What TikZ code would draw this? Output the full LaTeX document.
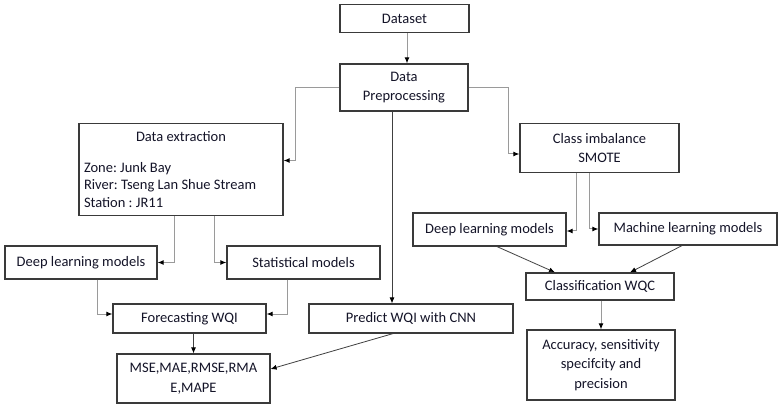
\documentclass[tikz,border=0pt]{standalone}
\usepackage{fontspec}
\setmainfont{Carlito}
\frenchspacing
\usetikzlibrary{arrows.meta,calc}
\definecolor{boxline}{HTML}{3A3A3A}
\definecolor{lineg}{HTML}{9A9A9A}
\definecolor{lined}{HTML}{404040}
\definecolor{txt}{HTML}{141428}
\tikzset{
  box/.style={draw=boxline, line width=1.2pt, fill=white, inner sep=0pt, align=center,
    text=txt, font=\fontsize{14.5}{19.5}\selectfont},
  conng/.style={draw=lineg, line width=1pt, -{Latex[length=6pt,width=5pt,color=black]}},
  connd/.style={draw=lined, line width=0.8pt, -{Latex[length=6pt,width=5pt,color=black]}},
}
\begin{document}
\begin{tikzpicture}[x=1pt,y=-1pt]
\useasboundingbox[fill=white] (0,0) rectangle (779,406);
% boxes
\node[box, minimum width=129, minimum height=28] (dataset) at (404.5,18.5) {Dataset};
\node[box, minimum width=128, minimum height=47] (prep) at (404,87.5) {Data\\Preprocessing};
\node[box, minimum width=204, minimum height=92, text width=194, align=flush left,
  font=\fontsize{14.5}{17.5}\selectfont\frenchspacing] (extr) at (181,169.5)
  {\makebox[194pt]{Data extraction}\\[13pt]Zone: Junk Bay\\River: Tseng Lan Shue Stream\\Station : JR11};
\node[box, minimum width=159, minimum height=49] (cls) at (599.5,148) {Class imbalance\\SMOTE};
\node[box, minimum width=152, minimum height=33] (dl1) at (81,262.5) {Deep learning models};
\node[box, minimum width=153, minimum height=33] (stat) at (303.5,262.5) {Statistical models};
\node[box, minimum width=153, minimum height=33] (dl2) at (489.5,229.5) {Deep learning models};
\node[box, minimum width=178, minimum height=32] (ml) at (688,229) {Machine learning models};
\node[box, minimum width=153, minimum height=29] (fore) at (189.5,318.5) {Forecasting WQI};
\node[box, minimum width=204, minimum height=29] (pred) at (411,318.5) {Predict WQI with CNN};
\node[box, minimum width=148, minimum height=27] (clsw) at (600,286.5) {Classification WQC};
\node[box, minimum width=153, minimum height=49] (mse) at (193.5,378.5) {MSE,MAE,RMSE,RMA\\E,MAPE};
\node[box, minimum width=148, minimum height=70] (acc) at (601,365) {Accuracy, sensitivity\\specifcity and\\precision};
% connectors
\draw[conng] ([xshift=2.5pt]dataset.south) -- ([xshift=3pt]prep.north);
\draw[conng] (prep.west) -| ([xshift=12pt,yshift=9pt]extr.east) -- ([yshift=9pt]extr.east);
\draw[conng] (prep.east) -| ([xshift=-11pt,yshift=-6pt]cls.west) -- ([yshift=-6pt]cls.west);
\draw[connd] ([xshift=-12pt]prep.south) -- ([xshift=-19pt]pred.north);
\draw[conng] ([xshift=-7pt]extr.south) |- (dl1.east);
\draw[conng] ([xshift=33pt]extr.south) |- (stat.west);
\draw[conng] ([xshift=16pt]dl1.south) |- ([yshift=4.5pt]fore.west);
\draw[conng] ([xshift=-16.5pt]stat.south) |- ([yshift=4.5pt]fore.east);
\draw[connd] (fore.south -| mse.north) -- (mse.north);
\draw[connd] ([xshift=-18pt]pred.south) -- ([yshift=9.5pt]mse.east);
\draw[conng] ([xshift=-23.5pt]cls.south) |- ([yshift=-1.5pt]dl2.east);
\draw[conng] ([xshift=-10.5pt]cls.south) |- (ml.west);
\draw[connd] ([xshift=7.5pt]dl2.south) -- ([xshift=-45pt]clsw.north);
\draw[connd] ([xshift=-6pt]ml.south) -- ([xshift=30pt]clsw.north);
\draw[conng] (clsw.south -| acc.north) -- (acc.north);
\end{tikzpicture}
\end{document}
